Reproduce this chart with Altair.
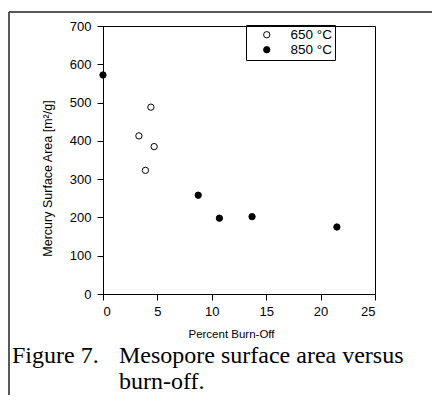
import altair as alt
import pandas as pd

# ---- data ----
burnoff_650 = [3.3, 3.9, 4.4, 4.7]
area_650 = [413, 323, 488, 385]
burnoff_850 = [0.0, 8.75, 10.7, 13.7, 21.5]
area_850 = [572, 258, 198, 202, 175]
series_labels = ["650 °C", "850 °C"]
x_ticks = [0, 5, 10, 15, 20, 25]
y_ticks = [0, 100, 200, 300, 400, 500, 600, 700]
x_title = "Percent Burn-Off"
y_title = "Mercury Surface Area [m²/g]"
caption_lead = "Figure 7."
caption_line1 = "Mesopore surface area versus"
caption_line2 = "burn-off."

df = pd.DataFrame({
    "burnoff": burnoff_650 + burnoff_850,
    "area": area_650 + area_850,
    "series": [series_labels[0]] * len(burnoff_650) + [series_labels[1]] * len(burnoff_850),
})

W, H = 272, 268
SANS = "Liberation Sans"
SERIF = "Liberation Serif"

points = alt.Chart(df).mark_point(
    filled=True, size=40, stroke="black", strokeWidth=1, opacity=1
).encode(
    x=alt.X("burnoff:Q",
            scale=alt.Scale(domain=[0, 25], nice=False, zero=False),
            axis=alt.Axis(values=x_ticks, title=x_title, titleX=128, titleY=40,
                          titleBaseline="middle", titleFontSize=11.5,
                          labelPadding=5)),
    y=alt.Y("area:Q",
            scale=alt.Scale(domain=[0, 700], nice=False),
            axis=alt.Axis(values=y_ticks, title=y_title, titleX=-56, titleY=152,
                          titleBaseline="middle", titleFontSize=12.5,
                          labelPadding=6)),
    fill=alt.Fill("series:N",
                  scale=alt.Scale(domain=series_labels, range=["white", "black"]),
                  legend=alt.Legend(
                      title=None, orient="none", legendX=143, legendY=-1,
                      strokeColor="black", padding=3, symbolOffset=11,
                      symbolSize=40, symbolStrokeColor="black", symbolStrokeWidth=1,
                      symbolType="circle", labelFont=SANS, labelFontSize=13.5,
                      labelColor="black", labelOffset=17, rowPadding=0,
                      labelExpr="datum.label + '\u00a0'")),
)

cap_df = pd.DataFrame({"t": [caption_lead]})
cap1_df = pd.DataFrame({"t": [caption_line1]})
cap2_df = pd.DataFrame({"t": [caption_line2]})

cap_lead = alt.Chart(cap_df).mark_text(
    font=SERIF, fontSize=24, align="left", baseline="alphabetic", color="black"
).encode(x=alt.value(-91), y=alt.value(337), text="t:N")
cap_1 = alt.Chart(cap1_df).mark_text(
    font=SERIF, fontSize=24, align="left", baseline="alphabetic", color="black"
).encode(x=alt.value(16), y=alt.value(337), text="t:N")
cap_2 = alt.Chart(cap2_df).mark_text(
    font=SERIF, fontSize=24, align="left", baseline="alphabetic", color="black"
).encode(x=alt.value(16), y=alt.value(363), text="t:N")

frame_left = alt.Chart(cap_df).mark_rule(color="#222", strokeWidth=1.5).encode(
    x=alt.value(-94), y=alt.value(-14), y2=alt.value(380))
frame_top = alt.Chart(cap_df).mark_rule(color="#222", strokeWidth=1.5).encode(
    x=alt.value(-94), x2=alt.value(340), y=alt.value(-14))

chart = alt.layer(points, cap_lead, cap_1, cap_2, frame_left, frame_top).properties(
    width=W, height=H,
    autosize=alt.AutoSizeParams(type="none"),
    padding={"left": 95, "top": 18, "right": 57, "bottom": 101},
    background="white",
).configure_view(
    stroke="black", strokeWidth=1
).configure_axis(
    grid=False, domainColor="black", tickColor="black", tickSize=6,
    labelFont=SANS, labelFontSize=13, labelColor="black",
    titleFont=SANS, titleFontWeight="normal", titleColor="black",
)

chart.save("out.html", embed_options={"renderer": "svg", "actions": False})
